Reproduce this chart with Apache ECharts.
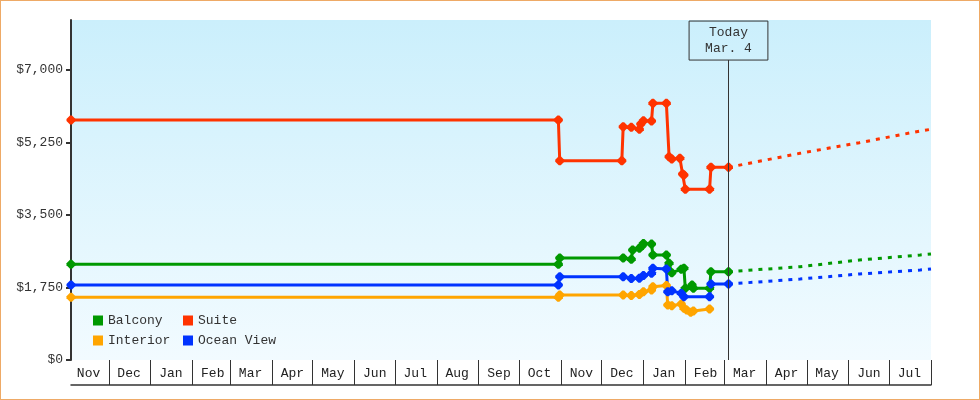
<!DOCTYPE html>
<html>
<head>
<meta charset="utf-8">
<script src="https://cdn.jsdelivr.net/npm/echarts@6/dist/echarts.min.js"></script>
<style>
  html, body { margin: 0; padding: 0; background: #fff; }
  #wrap { position: relative; width: 980px; height: 400px; }
  #chart { position: absolute; left: 0; top: 0; width: 980px; height: 400px; }
  #frame { position: absolute; left: 0; top: 0; width: 980px; height: 400px; box-sizing: border-box; border: 1px solid #eeaa66; pointer-events: none; }
</style>
</head>
<body>
<div id="wrap"><div id="chart"></div><div id="frame"></div></div>
<script>
// ---------- data ----------
const monthNames = ['Nov','Dec','Jan','Feb','Mar','Apr','May','Jun','Jul','Aug','Sep','Oct','Nov','Dec','Jan','Feb','Mar','Apr','May','Jun','Jul'];
const axisStart = '2014-11-03';
const axisEnd = '2016-08-01';
const yTicks = [0, 1750, 3500, 5250, 7000];
const yMax = 8207;
const todayDate = '2016-03-04';
const todayLabel = ['Today', 'Mar. 4'];
const seriesNames = ['Balcony', 'Suite', 'Interior', 'Ocean View'];

const balcony = [
  ['2014-11-03',2310],['2015-10-30',2310],['2015-10-31',2462],['2015-12-17',2462],
  ['2015-12-23',2431],['2015-12-24',2655],['2015-12-29',2700],['2015-12-31',2760],
  ['2016-01-01',2810],['2016-01-07',2800],['2016-01-08',2534],['2016-01-18',2534],
  ['2016-01-20',2334],['2016-01-22',2107],['2016-01-29',2189],['2016-01-31',2213],
  ['2016-02-01',1731],['2016-02-06',1810],['2016-02-07',1731],['2016-02-19',1731],
  ['2016-02-20',2131],['2016-03-04',2131]
];
const suite = [
  ['2014-11-03',5793],['2015-10-30',5793],['2015-10-31',4811],['2015-12-16',4811],
  ['2015-12-17',5631],['2015-12-23',5617],['2015-12-29',5569],['2015-12-30',5697],
  ['2016-01-01',5776],['2016-01-07',5769],['2016-01-08',6196],['2016-01-18',6196],
  ['2016-01-20',4907],['2016-01-22',4852],['2016-01-28',4869],['2016-01-30',4490],
  ['2016-01-31',4466],['2016-02-01',4120],['2016-02-19',4120],['2016-02-20',4651],
  ['2016-03-04',4651]
];
const interior = [
  ['2014-11-03',1513],['2015-10-30',1513],['2015-10-31',1569],['2015-12-17',1569],
  ['2015-12-23',1557],['2015-12-29',1581],['2016-01-01',1649],['2016-01-07',1690],
  ['2016-01-08',1770],['2016-01-18',1800],['2016-01-19',1328],['2016-01-22',1311],
  ['2016-01-29',1352],['2016-01-31',1248],['2016-02-02',1207],['2016-02-05',1151],
  ['2016-02-07',1183],['2016-02-19',1231]
];
const oceanView = [
  ['2014-11-03',1810],['2015-10-30',1810],['2015-10-31',2011],['2015-12-17',2011],
  ['2015-12-23',1967],['2015-12-29',1975],['2016-01-01',2040],['2016-01-07',2093],
  ['2016-01-08',2213],['2016-01-18',2197],['2016-01-19',1649],['2016-01-22',1673],
  ['2016-01-29',1609],['2016-01-31',1528],['2016-02-19',1528],['2016-02-20',1834],
  ['2016-03-04',1834]
];
const balconyForecast = [['2016-03-04',2131],['2016-04-26',2252],['2016-06-09',2414],['2016-07-24',2535],['2016-08-01',2559]];
const suiteForecast = [['2016-03-04',4651],['2016-04-26',4989],['2016-06-09',5245],['2016-07-24',5528],['2016-08-01',5569]];
const oceanForecast = [['2016-03-04',1834],['2016-04-26',1955],['2016-06-09',2076],['2016-07-24',2172],['2016-08-01',2197]];

// ---------- styles ----------
const FONT = 'Liberation Mono';
const INK = '#333';
const colors = { 'Balcony': '#009900', 'Suite': '#ff3300', 'Interior': '#ffa500', 'Ocean View': '#0033ff' };
const TODAY_LINE_TOP = 7240;
const MARKER = 'path://M3.5,0 L5.5,0 L9,3.5 L9,5.5 L5.5,9 L3.5,9 L0,5.5 L0,3.5 Z';

function ts(s) { const p = s.split('-').map(Number); return new Date(p[0], p[1] - 1, p[2]).getTime(); }
function pts(arr) { return arr.map(d => [ts(d[0]), d[1]]); }
function money(v) { return '$' + String(Math.round(v)).replace(/\B(?=(\d{3})+(?!\d))/g, ','); }

// month boundaries (ticks) and mid-month label positions
const startD = new Date(ts(axisStart));
const tickTs = [], labelTs = [], labelMap = new Map();
for (let i = 0; i < monthNames.length; i++) {
  const lab = new Date(startD.getFullYear(), startD.getMonth() + i, 16).getTime();
  labelTs.push(lab); labelMap.set(lab, monthNames[i]);
  tickTs.push(new Date(startD.getFullYear(), startD.getMonth() + i + 1, 1).getTime());
}

function solid(name, data) {
  const c = colors[name];
  return { name, type: 'line', data: pts(data), symbol: MARKER, symbolSize: 9,
    itemStyle: { color: c }, lineStyle: { color: c, width: 3 }, clip: false,
    animation: false, silent: true, z: 3, emphasis: { disabled: true } };
}
function dotted(name, data) {
  const c = colors[name];
  return { name, type: 'line', data: pts(data), symbol: 'none', showSymbol: false,
    itemStyle: { color: c }, lineStyle: { color: c, width: 3, type: [4, 6] }, clip: false,
    animation: false, silent: true, z: 2, emphasis: { disabled: true } };
}

const sForecast = dotted('Suite', suiteForecast);
sForecast.markLine = {
  silent: true, animation: false, symbol: ['none', 'none'],
  lineStyle: { color: INK, width: 1, type: 'solid' },
  label: { show: true, position: 'end', distance: 0, formatter: todayLabel.join('\n'),
    fontFamily: FONT, fontSize: 13, color: INK, lineHeight: 16, align: 'center',
    borderColor: INK, borderWidth: 1, padding: [4, 16, 3, 16] },
  emphasis: { disabled: true },
  data: [[{ coord: [ts(todayDate), 0] }, { coord: [ts(todayDate), TODAY_LINE_TOP] }]]
};

const legendBase = { orient: 'vertical', icon: 'rect', itemWidth: 10, itemHeight: 10, itemGap: 7,
  padding: 0, top: 314, selectedMode: false,
  textStyle: { fontFamily: FONT, fontSize: 13, color: INK, lineHeight: 13 } };

const option = {
  backgroundColor: '#fff',
  animation: false,
  grid: { left: 71, right: 49, top: 20, bottom: 40, show: true, borderWidth: 0,
    backgroundColor: { type: 'linear', x: 0, y: 0, x2: 0, y2: 1,
      colorStops: [{ offset: 0, color: '#cbeffc' }, { offset: 1, color: '#f2fbff' }] } },
  legend: [
    Object.assign({}, legendBase, { left: 93, data: [seriesNames[0], seriesNames[2]] }),
    Object.assign({}, legendBase, { left: 183, data: [seriesNames[1], seriesNames[3]] })
  ],
  xAxis: [
    { type: 'value', min: ts(axisStart), max: ts(axisEnd), scale: true,
      axisLine: { show: false },
      axisTick: { show: true, customValues: tickTs, length: 25, lineStyle: { color: INK, width: 1 } },
      axisLabel: { customValues: labelTs, formatter: v => labelMap.get(v) || '', margin: 7,
        fontFamily: FONT, fontSize: 13, color: '#222' },
      splitLine: { show: false } },
    { type: 'value', position: 'bottom', offset: 25, min: 0, max: 1,
      axisLine: { show: true, lineStyle: { color: INK, width: 1.5 } },
      axisTick: { show: false }, axisLabel: { show: false }, splitLine: { show: false } }
  ],
  yAxis: { type: 'value', min: 0, max: yMax,
    axisLine: { show: true, lineStyle: { color: INK, width: 2 } },
    axisTick: { show: true, customValues: yTicks, length: 5, lineStyle: { color: INK, width: 2 } },
    axisLabel: { customValues: yTicks, formatter: v => money(v), margin: 8,
      fontFamily: FONT, fontSize: 13, color: INK },
    splitLine: { show: false } },
  series: [
    solid('Balcony', balcony),
    solid('Suite', suite),
    solid('Interior', interior),
    solid('Ocean View', oceanView),
    dotted('Balcony', balconyForecast),
    sForecast,
    dotted('Ocean View', oceanForecast)
  ]
};

const chart = echarts.init(document.getElementById('chart'), null, { renderer: 'canvas' });
chart.setOption(option);
</script>
</body>
</html>
